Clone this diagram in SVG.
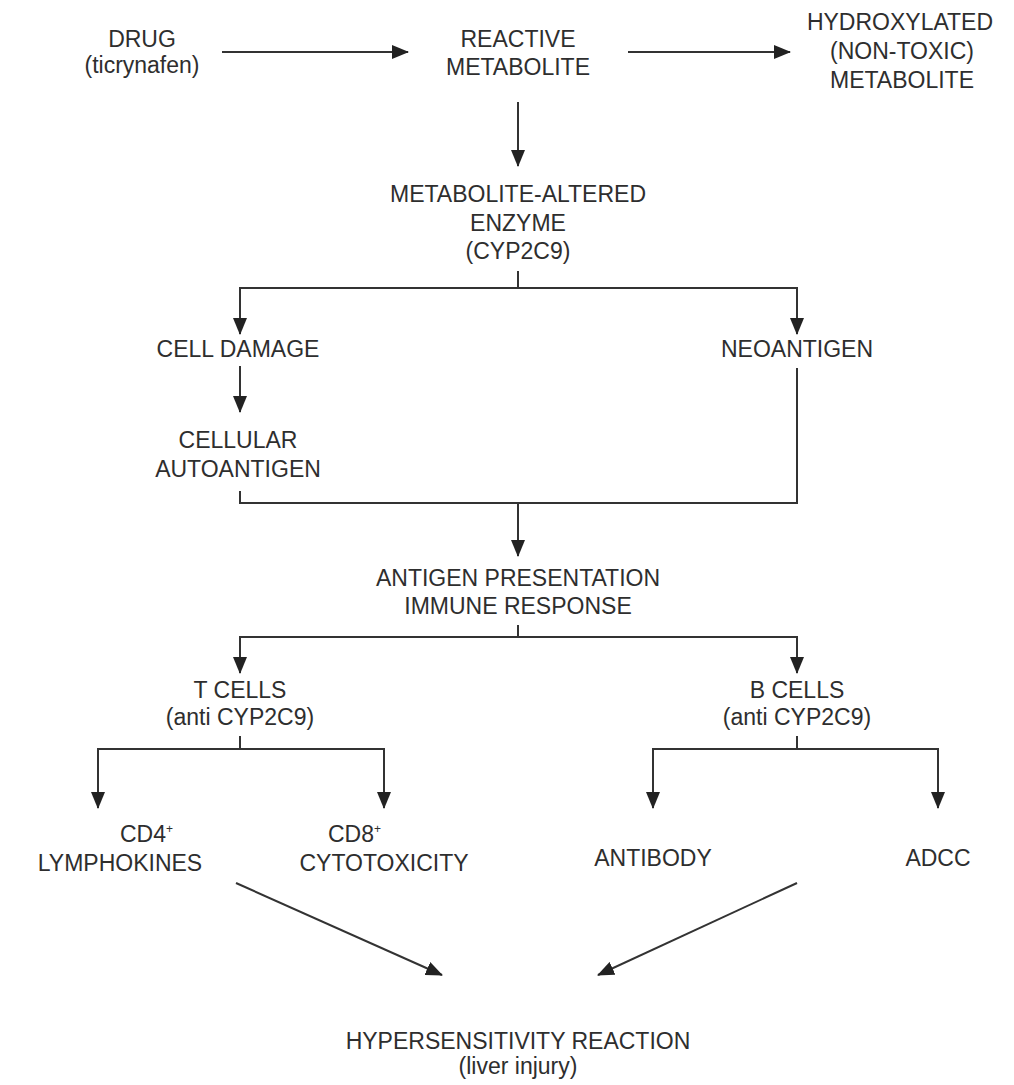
<svg xmlns="http://www.w3.org/2000/svg" width="1014" height="1085" viewBox="0 0 1014 1085">
<style>
text{font-family:"Liberation Sans",Arial,sans-serif;font-size:23px;fill:#2e2e2e;text-anchor:middle}
.sup{font-size:12px}
.ln{stroke:#333;stroke-width:2;fill:none}
.ar{stroke:#333;stroke-width:2;fill:none;marker-end:url(#ah)}
</style>
<defs>
<marker id="ah" markerUnits="userSpaceOnUse" markerWidth="18" markerHeight="14" refX="16" refY="7" orient="auto">
<path d="M0,0 L17,7 L0,14 Z" fill="#222"/>
</marker>
</defs>
<rect width="1014" height="1085" fill="#fff"/>
<g id="connectors">
<line class="ar" x1="222" y1="52" x2="408" y2="52"/>
<line class="ar" x1="628" y1="52" x2="790" y2="52"/>
<line class="ar" x1="518" y1="102" x2="518" y2="166"/>
<line class="ln" x1="518" y1="271" x2="518" y2="288"/>
<polyline class="ar" points="518,288 240,288 240,334"/>
<polyline class="ar" points="518,288 797,288 797,334"/>
<line class="ar" x1="240" y1="366" x2="240" y2="412"/>
<polyline class="ln" points="240,491 240,503 797,503 797,368"/>
<line class="ar" x1="518" y1="503" x2="518" y2="556"/>
<line class="ln" x1="518" y1="625" x2="518" y2="637"/>
<polyline class="ar" points="518,637 240,637 240,673"/>
<polyline class="ar" points="518,637 797,637 797,673"/>
<line class="ln" x1="240" y1="736" x2="240" y2="749"/>
<polyline class="ar" points="240,749 98,749 98,808"/>
<polyline class="ar" points="240,749 384,749 384,808"/>
<line class="ln" x1="797" y1="736" x2="797" y2="749"/>
<polyline class="ar" points="797,749 653,749 653,808"/>
<polyline class="ar" points="797,749 938,749 938,808"/>
<line class="ar" x1="236" y1="883" x2="442" y2="975"/>
<line class="ar" x1="797" y1="883" x2="598" y2="975"/>
</g>
<g id="drug"><text x="142" y="47">DRUG</text><text x="142" y="73">(ticrynafen)</text></g>
<g id="reactive"><text x="518" y="47">REACTIVE</text><text x="518" y="75">METABOLITE</text></g>
<g id="hydroxylated"><text x="900" y="30">HYDROXYLATED</text><text x="902" y="59">(NON-TOXIC)</text><text x="902" y="88">METABOLITE</text></g>
<g id="enzyme"><text x="518" y="202">METABOLITE-ALTERED</text><text x="518" y="231">ENZYME</text><text x="518" y="259">(CYP2C9)</text></g>
<g id="celldamage"><text x="238" y="357">CELL DAMAGE</text></g>
<g id="neoantigen"><text x="797" y="357">NEOANTIGEN</text></g>
<g id="autoantigen"><text x="238" y="448">CELLULAR</text><text x="238" y="477">AUTOANTIGEN</text></g>
<g id="antigen"><text x="518" y="586">ANTIGEN PRESENTATION</text><text x="518" y="614">IMMUNE RESPONSE</text></g>
<g id="tcells"><text x="240" y="698">T CELLS</text><text x="240" y="725">(anti CYP2C9)</text></g>
<g id="bcells"><text x="797" y="698">B CELLS</text><text x="797" y="725">(anti CYP2C9)</text></g>
<g id="cd4"><text x="120" y="842" style="text-anchor:start">CD4<tspan class="sup" dy="-9">+</tspan></text><text x="120" y="871">LYMPHOKINES</text></g>
<g id="cd8"><text x="328" y="842" style="text-anchor:start">CD8<tspan class="sup" dy="-9">+</tspan></text><text x="384" y="871">CYTOTOXICITY</text></g>
<g id="antibody"><text x="653" y="866">ANTIBODY</text></g>
<g id="adcc"><text x="938" y="866">ADCC</text></g>
<g id="hypersensitivity"><text x="518" y="1049">HYPERSENSITIVITY REACTION</text><text x="518" y="1074">(liver injury)</text></g>
</svg>
